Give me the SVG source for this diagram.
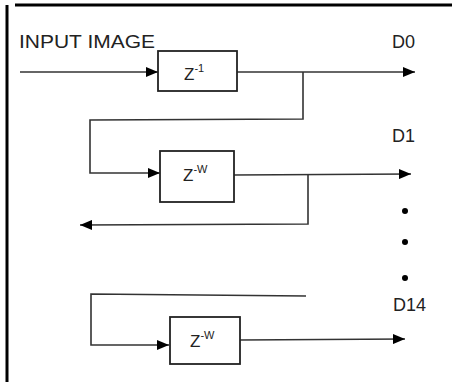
<svg xmlns="http://www.w3.org/2000/svg" width="452" height="382" viewBox="0 0 452 382">
<style>
.t{font-family:"Liberation Sans",Arial,sans-serif;fill:#222}
.lbl{font-size:18px}
.z{font-size:17px}
.sup{font-size:11px}
.box{fill:#fff;stroke:#222;stroke-width:1.8}
.ln{fill:none;stroke:#333;stroke-width:1.6}
.dot{fill:#000}
</style>
<defs>
<marker id="ah" markerWidth="12" markerHeight="10" refX="12" refY="5" orient="auto" markerUnits="userSpaceOnUse">
<path d="M0,0 L12,5 L0,10 Z" fill="#000"/>
</marker>
</defs>
<rect width="452" height="382" fill="#fff"/>
<g id="frame">
<line x1="15" y1="5" x2="452" y2="5" stroke="#000" stroke-width="3"/>
<line x1="7" y1="5" x2="7" y2="382" stroke="#000" stroke-width="3"/>
</g>
<g id="connectors">
<line class="ln" x1="20" y1="72" x2="158" y2="72" marker-end="url(#ah)"/>
<line class="ln" x1="237" y1="72" x2="415" y2="72" marker-end="url(#ah)"/>
<polyline class="ln" points="303,72 303,119 90,120 90,173 160,173" marker-end="url(#ah)"/>
<line class="ln" x1="234" y1="175" x2="411" y2="174" marker-end="url(#ah)"/>
<polyline class="ln" points="308,175 308,224 80,225" marker-end="url(#ah)"/>
<polyline class="ln" points="306,296 91,294 91,345 169,345" marker-end="url(#ah)"/>
<line class="ln" x1="240" y1="340" x2="405" y2="339" marker-end="url(#ah)"/>
</g>
<g id="input-label"><text class="t lbl" x="19" y="48" textLength="136" lengthAdjust="spacingAndGlyphs">INPUT IMAGE</text></g>
<g id="node-z1">
<rect class="box" x="158" y="51" width="79" height="40"/>
<text class="t z" x="184" y="80">Z<tspan class="sup" dy="-8">-1</tspan></text>
</g>
<g id="node-zw1">
<rect class="box" x="160" y="151" width="74" height="51"/>
<text class="t z" x="183" y="181">Z<tspan class="sup" dy="-8">-W</tspan></text>
</g>
<g id="node-zw2">
<rect class="box" x="170" y="317" width="70" height="47"/>
<text class="t z" x="190" y="347">Z<tspan class="sup" dy="-8">-W</tspan></text>
</g>
<g id="out-labels">
<text class="t lbl" x="392" y="48">D0</text>
<text class="t lbl" x="392" y="142">D1</text>
<text class="t lbl" x="393" y="311">D14</text>
</g>
<g id="dots">
<circle class="dot" cx="405" cy="211" r="3"/>
<circle class="dot" cx="405" cy="242" r="3"/>
<circle class="dot" cx="405" cy="278" r="3"/>
</g>
</svg>
